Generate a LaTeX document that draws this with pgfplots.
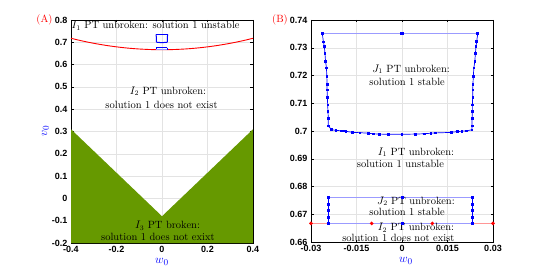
\documentclass[border=0pt]{standalone}
\usepackage{pgfplots}
\pgfplotsset{compat=1.18}
\usepackage{fontspec}
\setsansfont{Liberation Sans}
\definecolor{olive1}{RGB}{102,153,0}
\definecolor{lblue}{RGB}{155,155,255}
\definecolor{lred}{RGB}{255,150,150}
\tikzset{txt/.style={font=\fontsize{10.5}{12}\selectfont, inner sep=0pt}}
\pgfplotsset{
  layers/mylayers/.define layer set={axis background,axis grid,main,axis ticks,axis lines,axis tick labels,axis descriptions,axis foreground}{},
  myaxis/.style={
    set layers=mylayers,
    scale only axis,
    anchor=south west,
    grid=major,
    grid style={gray!22, line width=0.4pt},
    axis line style={black, line width=0.5pt},
    major tick length=2.5pt,
    tick style={black, line width=0.4pt},
    tick label style={font=\sffamily\bfseries\fontsize{9}{10}\selectfont},
    /pgf/number format/assume math mode=true,
    scaled ticks=false,
    clip=false,
  },
}
\pgfplotstableread{
x y
-0.0263 0.7352
-0.0259 0.7321
-0.0256 0.7304
-0.0254 0.7280
-0.0252 0.7250
-0.0249 0.7228
-0.0248 0.7198
-0.0247 0.7169
-0.0247 0.7148
-0.0246 0.7121
-0.0245 0.7094
-0.0244 0.7070
-0.0243 0.7046
-0.0243 0.7018
-0.0232 0.7005
-0.0218 0.7002
-0.0201 0.7001
-0.0193 0.7000
-0.0185 0.6999
-0.0163 0.6995
-0.0139 0.6994
-0.0111 0.6992
-0.0095 0.6990
-0.0075 0.6989
-0.0045 0.6988
0.0000 0.6988
0.0043 0.6989
0.0073 0.6990
0.0095 0.6992
0.0109 0.6993
0.0162 0.6995
0.0182 0.6998
0.0197 0.6999
0.0213 0.7001
0.0230 0.7004
0.0231 0.7018
0.0231 0.7046
0.0232 0.7070
0.0232 0.7094
0.0233 0.7121
0.0233 0.7148
0.0234 0.7169
0.0235 0.7198
0.0237 0.7228
0.0240 0.7250
0.0242 0.7280
0.0244 0.7304
0.0246 0.7322
0.0250 0.7352
}\Jone
\pgfplotstableread{
x y
-0.0263 0.7352
0.0000 0.7352
0.0250 0.7352
}\Jonetop
\pgfplotstableread{
x y
-0.0243 0.6760
-0.0243 0.6735
-0.0243 0.6713
-0.0243 0.6688
-0.0243 0.6666
}\Jtwoleft
\pgfplotstableread{
x y
0.0231 0.6760
0.0231 0.6735
0.0231 0.6713
0.0231 0.6688
0.0231 0.6666
}\Jtworight
\pgfplotstableread{
x y
-0.0243 0.6760
0.0000 0.6760
0.0231 0.6760
}\Jtwotop
\pgfplotstableread{
x y
-0.0243 0.6666
0.0000 0.6666
0.0231 0.6666
}\Jtwobot
\pgfplotstableread{
x y
-0.03 0.6667
-0.01 0.6667
0.01 0.6667
0.03 0.6667
}\Redline
\pgfplotstableread{
x y
-0.40 0.7179
-0.35 0.7059
-0.30 0.6955
-0.25 0.6867
-0.20 0.6795
-0.15 0.6739
-0.10 0.6699
-0.05 0.6675
0.00 0.6667
0.05 0.6675
0.10 0.6699
0.15 0.6739
0.20 0.6795
0.25 0.6867
0.30 0.6955
0.35 0.7059
0.40 0.7179
}\Redcurve
\pgfplotstableread{
x y
-0.40 -0.20
-0.40 0.310
0.00 -0.080
0.40 0.310
0.40 -0.20
}\Broken
\begin{document}
\begin{tikzpicture}
\path (0pt,0pt) rectangle (545pt,273pt);
% ---------- (A)
\begin{axis}[myaxis, at={(71pt,30pt)}, width=182pt, height=223pt,
  xmin=-0.4, xmax=0.4, ymin=-0.2, ymax=0.8,
  xtick={-0.4,-0.2,0,0.2,0.4},
  xticklabels={-0.4,-0.2,0,0.2,0.4},
  ytick={-0.2,-0.1,0,0.1,0.2,0.3,0.4,0.5,0.6,0.7,0.8},
  yticklabels={-0.2,-0.1,0,0.1,0.2,0.3,0.4,0.5,0.6,0.7,0.8},
]
\addplot[fill=olive1, draw=none] table {\Broken} -- cycle;
\addplot[draw=red, line width=0.9pt, smooth] table {\Redcurve};
\addplot[draw=blue, line width=1pt] table {\Jone};
\addplot[draw=blue, line width=1pt] table {\Jonetop};
\addplot[draw=blue, line width=0.9pt] table {\Jtwoleft};
\addplot[draw=blue, line width=0.9pt] table {\Jtworight};
\addplot[draw=blue, line width=0.9pt] table {\Jtwotop};
\addplot[draw=lblue, line width=0.9pt] table {\Jtwobot};
\node[txt] at (axis cs:-0.028,0.773) {$I_1$ PT unbroken: solution 1 unstable};
\node[txt] at (axis cs:0.026,0.480) {$I_2$ PT unbroken:};
\node[txt] at (axis cs:-0.002,0.421) {solution 1 does not exist};
\node[txt] at (axis cs:0.024,-0.124) {$I_3$ PT broken:};
\node[txt] at (axis cs:-0.018,-0.171) {solution 1 does not exixt};
\end{axis}
% ---------- (B)
\begin{axis}[myaxis, at={(311pt,31pt)}, width=182pt, height=222pt,
  xmin=-0.03, xmax=0.03, ymin=0.66, ymax=0.74,
  xtick={-0.03,-0.015,0,0.015,0.03},
  xticklabels={-0.03,-0.015,0,0.015,0.03},
  ytick={0.66,0.67,0.68,0.69,0.7,0.71,0.72,0.73,0.74},
  yticklabels={0.66,0.67,0.68,0.69,0.7,0.71,0.72,0.73,0.74},
]
\addplot[draw=lred, line width=1.5pt, mark=*, mark size=0.9pt, mark options={draw=red, fill=red}] table {\Redline};
\addplot[draw=lblue, line width=1.5pt, mark=square*, mark size=0.9pt, mark options={draw=blue, fill=blue}] table {\Jonetop};
\addplot[draw=blue, line width=0.7pt, mark=square*, mark size=0.8pt, mark options={draw=blue, fill=blue}] table {\Jone};
\addplot[draw=lblue, line width=1.4pt, mark=square*, mark size=0.8pt, mark options={draw=blue, fill=blue}] table {\Jtwotop};
\addplot[draw=lblue, line width=1.4pt, mark=square*, mark size=0.8pt, mark options={draw=blue, fill=blue}] table {\Jtwobot};
\addplot[draw=blue, line width=0.7pt, mark=square*, mark size=0.8pt, mark options={draw=blue, fill=blue}] table {\Jtwoleft};
\addplot[draw=blue, line width=0.7pt, mark=square*, mark size=0.8pt, mark options={draw=blue, fill=blue}] table {\Jtworight};
\node[txt] at (axis cs:0.0030,0.7222) {$J_1$ PT unbroken:};
\node[txt] at (axis cs:0.0017,0.7178) {solution 1 stable};
\node[txt] at (axis cs:0.0046,0.6923) {$I_1$ PT unbroken:};
\node[txt] at (axis cs:-0.0005,0.6880) {solution 1 unstable};
\node[txt] at (axis cs:0.0046,0.6747) {$J_2$ PT unbroken:};
\node[txt] at (axis cs:0.0017,0.6710) {solution 1 stable};
\node[txt] at (axis cs:0.0046,0.6652) {$I_2$ PT unbroken:};
\node[txt] at (axis cs:-0.0012,0.6614) {solution 1 does not exist};
\end{axis}
% ---------- labels
\node[red, font=\fontsize{10.5}{12}\selectfont] at (44.5pt,253pt) {(A)};
\node[red, font=\fontsize{10.5}{12}\selectfont] at (280pt,253pt) {(B)};
\node[blue, font=\fontsize{12.5}{14}\selectfont] at (162pt,11pt) {$w_0$};
\node[blue, font=\fontsize{12.5}{14}\selectfont] at (406pt,12pt) {$w_0$};
\node[blue, font=\fontsize{12.5}{14}\selectfont, rotate=90] at (45.5pt,142pt) {$v_0$};
\end{tikzpicture}
\end{document}
